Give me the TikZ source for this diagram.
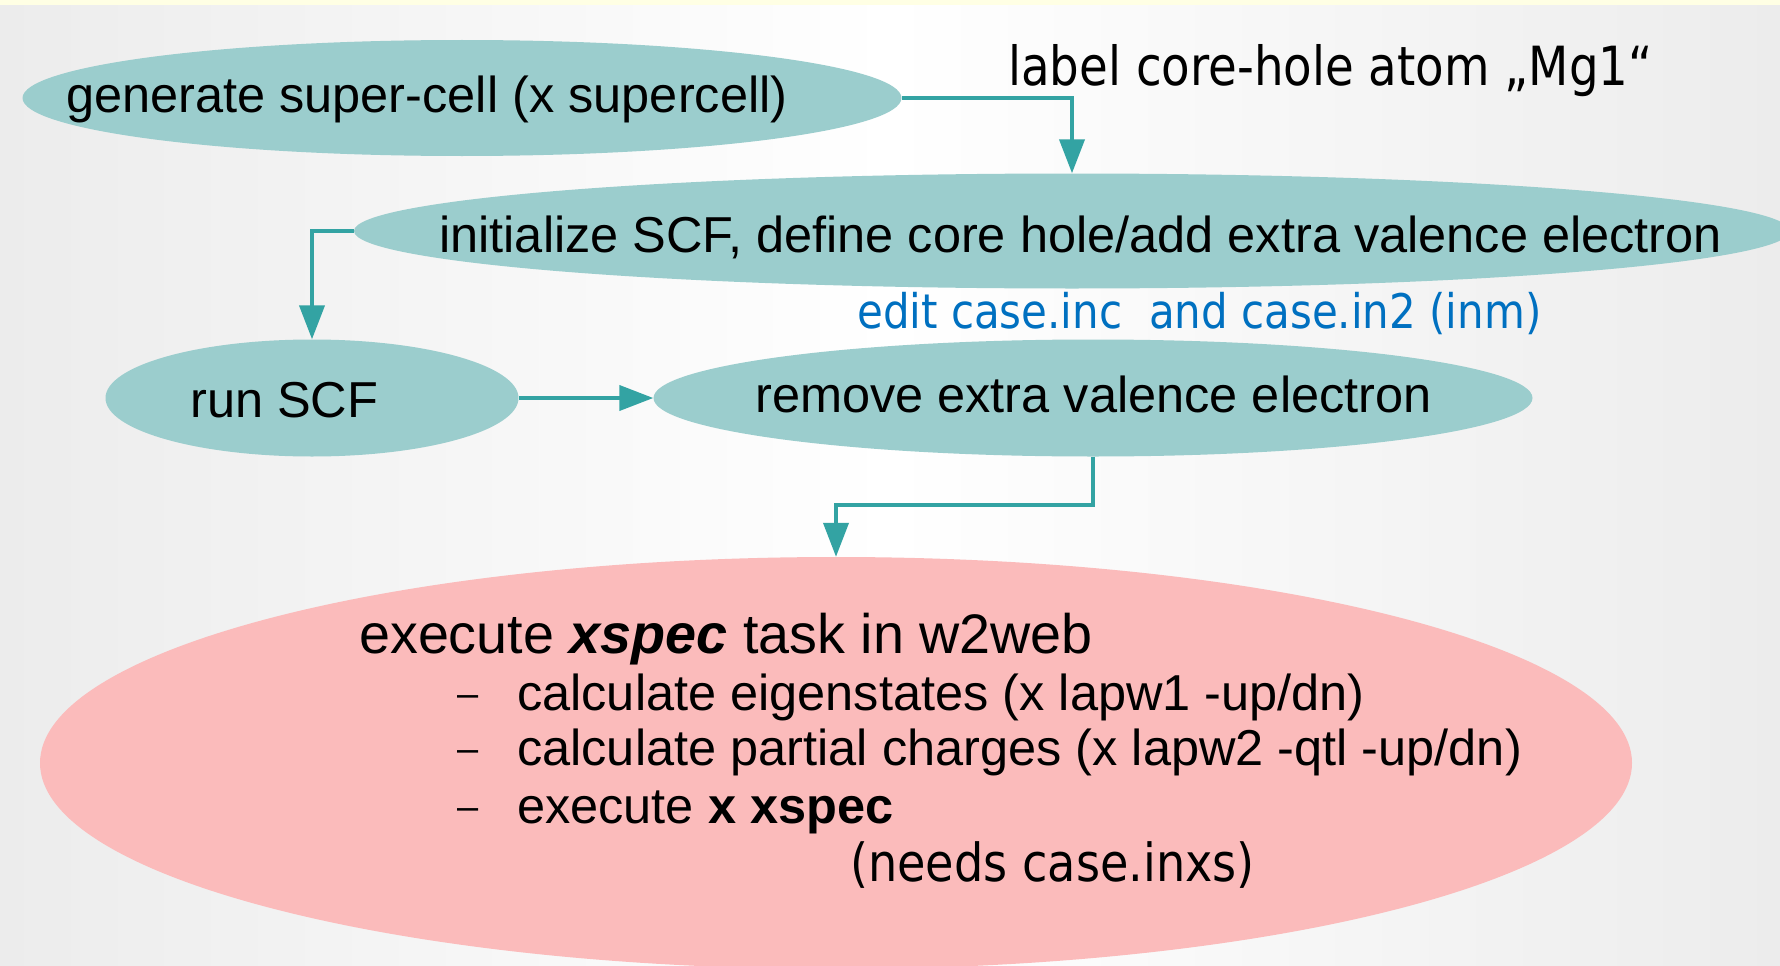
\documentclass[tikz,border=0pt]{standalone}
\usepackage{fontspec}
\setmainfont{Liberation Sans}
\newfontfamily\tahoma[FakeStretch=0.88]{DejaVu Sans}
\newfontfamily\tahomalab[FakeStretch=0.865]{DejaVu Sans}
\usetikzlibrary{shapes.geometric,arrows.meta}
\definecolor{tealfill}{RGB}{155,205,205}
\definecolor{tealline}{RGB}{51,163,163}
\definecolor{pinkfill}{RGB}{251,187,187}
\definecolor{bluetext}{RGB}{0,112,192}
\definecolor{bgedge}{RGB}{236,236,236}
\definecolor{topstrip}{RGB}{255,255,228}
\tikzset{
  blob/.style={ellipse, draw=none, inner sep=0pt},
  tealblob/.style={blob, fill=tealfill},
  pinkblob/.style={blob, fill=pinkfill},
  atxt/.style={inner sep=0pt, anchor=base west, font=\fontsize{50.5}{60}\selectfont},
  dashtxt/.style={inner sep=0pt, anchor=base west, font=\fontsize{38}{44}\selectfont},
  ttxt/.style={inner sep=0pt, anchor=base west},
  arr/.style={draw=tealline, line width=4pt, -{Triangle[length=34pt,width=25pt]}, fill=none}
}
\begin{document}
\begin{tikzpicture}[x=1pt,y=-1pt]
\useasboundingbox (0,0) rectangle (1780,966);
\clip (0,0) rectangle (1780,966);
\shade[left color=bgedge, right color=bgedge, middle color=white] (0,0) rectangle (1780,966);
\fill[topstrip] (0,0) rectangle (1780,5);

% ellipses
\node[tealblob, minimum width=879pt, minimum height=116pt] (gen) at (462,98) {};
\node[tealblob, minimum width=1436pt, minimum height=115pt] (init) at (1072,231) {};
\node[tealblob, minimum width=413pt, minimum height=117pt] (run) at (312,398) {};
\node[tealblob, minimum width=879pt, minimum height=117pt] (remove) at (1093,398) {};
\node[pinkblob, minimum width=1592pt, minimum height=412pt] (task) at (836,763) {};

% texts
\node[atxt] (gentxt) at (66,112) {generate super-cell (x supercell)};
\node[atxt] (inittxt) at (439,252) {initialize SCF, define core hole/add extra valence electron};
\node[atxt] (runtxt) at (190,417) {run SCF};
\node[atxt] (removetxt) at (755,412) {remove extra valence electron};
\node[ttxt, font=\tahomalab\fontsize{54}{64}\selectfont] (labeltxt) at (1008,85) {label core-hole atom „Mg1“};
\node[ttxt, font=\tahoma\fontsize{47.7}{57}\selectfont, text=bluetext] (edittxt) at (857,328) {edit case.inc\ \ and case.in2 (inm)};

\node[atxt, font=\fontsize{55.7}{66}\selectfont] (exectxt) at (359,653) {execute \textbf{\textit{xspec}} task in w2web};
\node[dashtxt] (dasha) at (457,706) {–};
\node[atxt] (linea) at (517,710) {calculate eigenstates (x lapw1 -up/dn)};
\node[dashtxt] (dashb) at (457,761) {–};
\node[atxt] (lineb) at (517,765) {calculate partial charges (x lapw2 -qtl -up/dn)};
\node[dashtxt] (dashc) at (457,819) {–};
\node[atxt] (linec) at (517,823) {execute \textbf{x xspec}};
\node[ttxt, font=\tahoma\fontsize{52.5}{62}\selectfont] (needstxt) at (850,881) {(needs case.inxs)};

% connectors
\draw[arr] (gen.east) -| (init.north);
\draw[arr] (init.west) -| (run.north);
\draw[arr] (run.east) -- (remove.west);
\draw[arr] (remove.south) -- ++(0,48) -| (task.north);
\end{tikzpicture}
\end{document}
